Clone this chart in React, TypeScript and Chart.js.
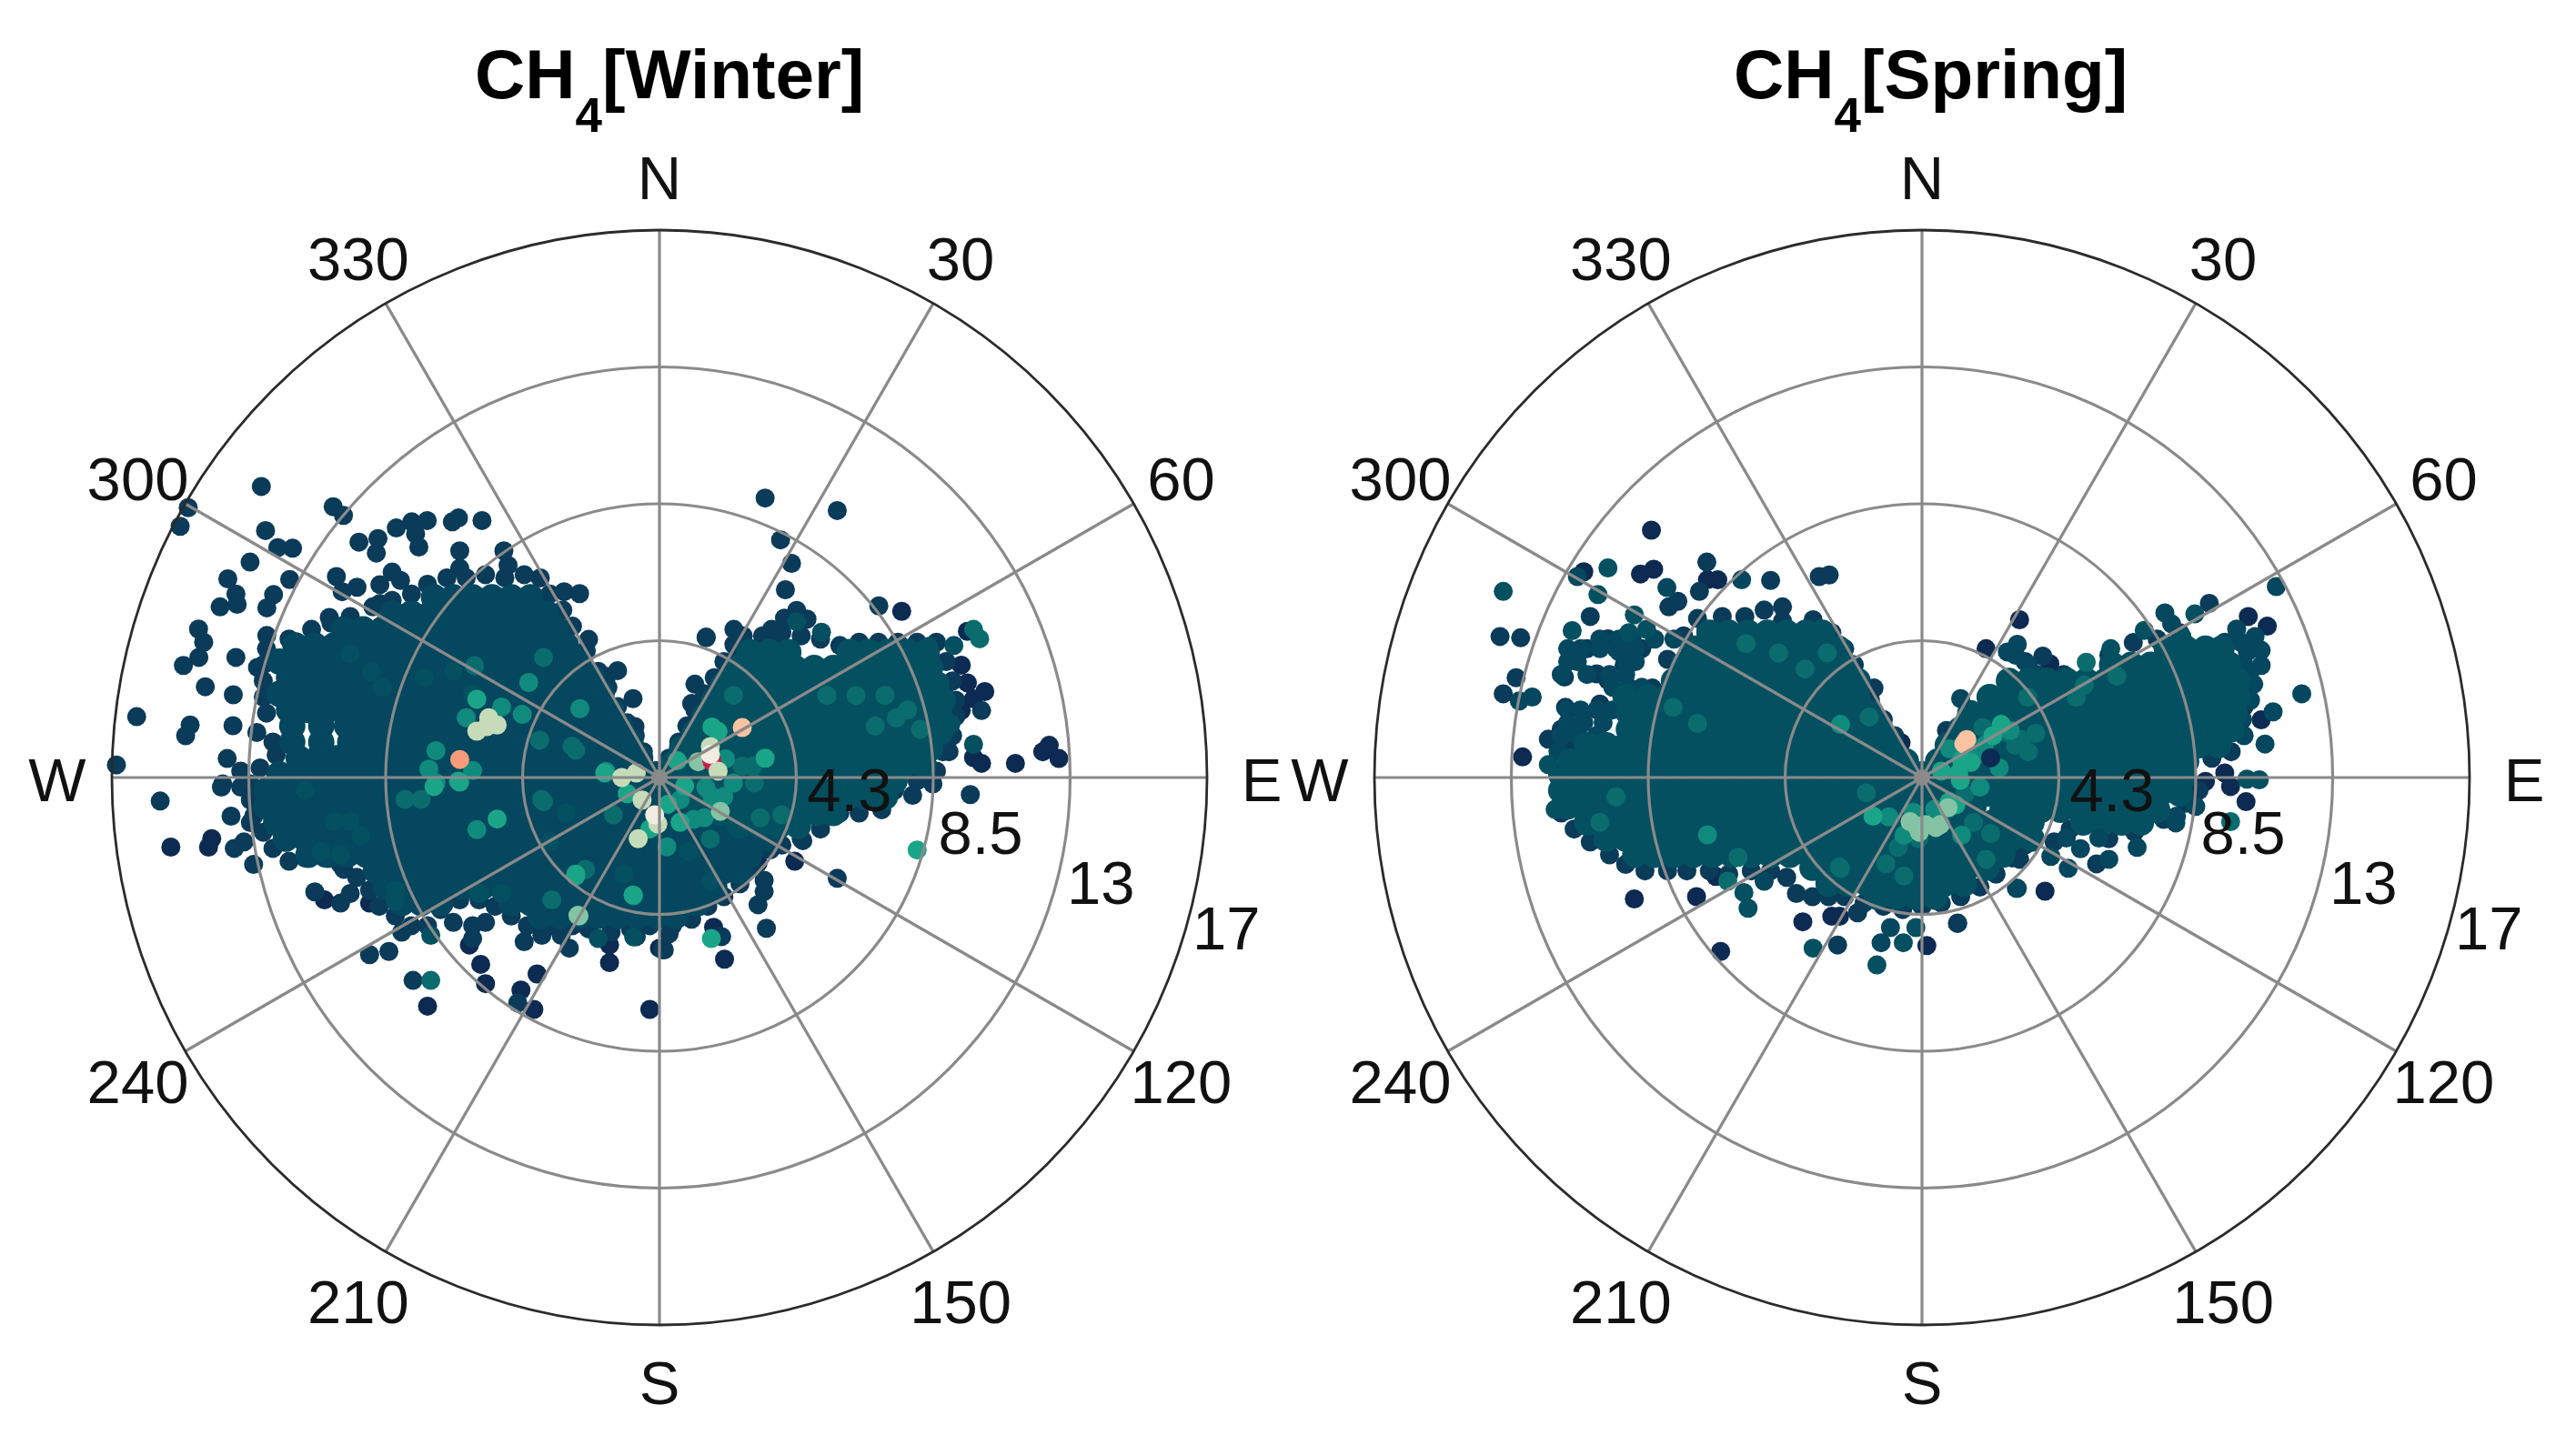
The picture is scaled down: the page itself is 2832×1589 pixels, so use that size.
import { useEffect, useRef } from "react";
import { Chart, registerables } from "chart.js";

Chart.register(...registerables);

// Wind rose scatter. Every row is [north, east, east, ...] in wind speed units.
// The middle of each lobe is overplotted, so the "Body" rows are an estimate of
// coverage there; single dots are only readable around the rims and for bright values.

const dirBearings = [0, 30, 60, 90, 120, 150, 180, 210, 240, 270, 300, 330];
const dirLabels = ["N", "30", "60", "E", "120", "150", "S", "210", "240", "W", "300", "330"];
const speedTicks = [4.25, 8.5, 12.75, 17];
const speedLabels = ["4.3", "8.5", "13", "17"];

const winterNavy = [
  [5.16, 7.52], [4.54, 9.56], [3.49, 9.37], [2.94, 9.56], [2.67, 10.1], [2.44, 9.75], [2.08, 9.37], [2.43, 9],
  [.62, 9.75], [.44, 10, 11.05], [.8, 11.9], [1, 12.1], [.59, 12.4], [4.07, 6.85],
  [-2.6, 4.2], [-2.66, 3.06], [-2.9, 2.56], [-3.8, -10.4], [-3.9, -9], [-7.1, -7.2], [-5.2, -5.9, -1.55],
  [-5.8, -5.55], [-6.4, -5.4], [-6.1, -3.8], [-6.6, -4.3], [-7.2, -3.9, -.3], [-5.75, -1.55], [-5.3, 0],
  [-4.65, 1.68], [-5.64, 2.02], [-2.16, -15.17, -14], [-1.9, -13.9],
];

const winterEdge = [
  [9.04, -12.36], [8.41, -10.13], [8.38, -14.63], [8.14, -9.81], [8.06, -6.24], [7.98, -7.21, -5.51], [7.94, -7.69, -6.43],
  [7.8, -14.88], [7.75, -8.17], [7.67, -12.23], [7.56, -7.57], [7.42, -8.74], [7.31, -9.33], [7.16, -7.47], [7.14, -11.85],
  [7.12, -11.39], [7.04, -6.2, -4.83], [6.97, -8.79], [6.69, -12.71], [6.59, -4.7], [6.5, -6.2], [6.38, -8.3], [6.24, -10.03],
  [6.17, -13.4], [6.15, -11.48], [6.12, -8.04], [5.99, -8.68], [5.91, -9.39], [5.77, -9.85, -2.96], [5.71, -2.48], [5.7, -13.15],
  [5.68, -11.98], [5.4, -8.68], [5.38, -13.11], [5.3, -13.64], [5.27, -12.19], [4.97, -10.25], [4.61, -14.31], [4.41, -12.19],
  [4.36, 1.45], [4.29, -2.2], [4.2, -14.15], [3.73, -14.3, -13.15], [3.48, -14.78], [3.42, -12.48], [3.32, -1.3], [3.14, -1.64],
  [2.82, -14.1], [2.57, -13.23], [2.45, -.82], [1.89, -16.23], [1.63, -14.57], [1.61, -13.24], [1.58, -.76], [1.3, -14.71],
  [.59, -13.42], [.39, -16.86], [.2, -13], [-.2, -13.56], [-.3, -13, -13.6], [-.73, -15.5], [-1.2, -13.3], [-1.4, -12.7],
  [-2, -12.9], [-2.2, -13.2], [-2.7, -12.6], [-3.55, -10.7], [-3.9, -9.9], [-3.6, -9.6], [-2.85, -9.8],
  [-4.8, -8], [-5.5, -9], [-5.4, -8.4], [-6.3, -7.65], [-4.5, -6.4, -5.4], [-4.6, -5.8], [-5, -5.8], [-7, -4.4],
  [-5.1, -4.2], [-4.9, -3.65, -3.05], [-5.3, -2.8],
  [8.68, 3.28], [8.29, 5.52], [7.38, 3.76], [6.65, 4.1], [5.83, 3.91], [5.33, 6.81], [5.19, 4.26], [4.95, 3.88], [4.92, 4.58],
  [4.34, 1.45], [4.6, 2.31, 3.48], [4.13, 2.31], [4.3, 3.7], [2.9, 1.1], [2.3, 1], [2.08, 10], [.8, 8.99],
  [-.2, 8.49], [-.55, 7.86], [-.53, 9.65], [-1.96, 4.45], [-2.25, 3.44], [-3.19, 3.25], [-3.54, 3.25], [-3.95, 3.06],
  [-4.68, 3.32], [-4.94, 1.93], [-5.35, .1, .15], [-4.85, .3], [-4.94, -.72], [-3.13, 5.52],
  [4, -12.2], [4.3, -11.5], [4.6, -10.8], [4.8, -10.2], [5, -9.6], [5.3, -8.9], [5.5, -8.3], [5.7, -7.7], [6, -7.2], [6.2, -6.6, -4.8, -3.7],
  [6.2, -6], [6.3, -5.4, -4.2], [5.7, -3.4], [5.2, -3], [4.7, -2.7], [3.5, -12.3], [3, -12.3], [2.5, -12.3], [2, -12.2],
  [1.4, -12.5], [1.1, -12], [.7, -11.9], [.3, -12.4], [-.2, -12.7], [-.7, -12.7], [-1.2, -12.6], [-1.7, -12.3], [-2.2, -12],
  [-2.6, -11.5], [-2.5, -11, -10.4], [-2.7, -9.9], [-3.1, -9.4], [-3.5, -9], [-4, -8.7], [-4.3, -8.2], [-4.6, -7.7, -7.2, -3.4, -2.7],
  [-4.1, -6.8], [-3.8, -6.2, -5.6], [-4, -5.1], [-4.3, -4.6], [-4.6, -4.1], [-4.7, -2.2, -.9], [-4.8, -1.5], [-4.6, -.3, .4],
  [-4.4, 1], [-4, 1.5], [-3.7, 2], [-3.3, 2.5], [-2.8, 2.9], [-2.2, 3.3], [-2.1, 3.8], [-1.9, 4.4], [-1.6, 5], [-1.1, 5.6, 6.2],
  [-1, 6.9], [-.4, 7.3], [-.1, 8], [.2, 8.6], [.8, 8.8], [1.3, 9.1], [1.9, 9.2], [2.4, 9.2], [3, 9.1], [3.6, 8.9], [4.2, 8.6, 8, 7.4, 6.8, 6.2],
  [4.1, 5.6], [4.3, 5], [4.4, 4.4, 3.2, 2.6], [4.5, 3.8],
  [3.94, -2.27], [3.3, -1.9], [2.8, -1.6], [2.2, -1.3], [1.7, -1], [1.3, -.75], [.8, -.5],
  [.6, .3], [1.1, .6], [1.6, .85], [2.1, 1.1], [2.6, 1.4], [3.1, 1.7], [3.6, 2], [4, 2.4],
];

const winterBody = [
  [5.6, -7, -6.4, -5.8, -5.2, -4.6, -4],
  [5.1, -8.3, -7.7, -7.1, -6.5, -5.9, -5.3, -4.7, -4.1, -3.5],
  [4.6, -9.8, -9.2, -8.6, -8, -7.4, -6.8, -6.2, -5.6, -5, -4.4, -3.8, -3.2],
  [4.1, -11.3, -10.7, -10.1, -9.5, -8.9, -8.3, -7.7, -7.1, -6.5, -5.9, -5.3, -4.7, -4.1, -3.5, -2.9],
  [3.6, -11.8, -11.2, -10.6, -10, -9.4, -8.8, -8.2, -7.6, -7, -6.4, -5.8, -5.2, -4.6, -4, -3.4, -2.8, -2.5],
  [3.1, -11.5, -10.9, -10.3, -9.7, -9.1, -8.5, -7.9, -7.3, -6.7, -6.1, -5.5, -4.9, -4.3, -3.7, -3.1, -2.5, -2.1],
  [2.6, -11.8, -11.2, -10.6, -10, -9.4, -8.8, -8.2, -7.6, -7, -6.4, -5.8, -5.2, -4.6, -4, -3.4, -2.8, -2.2, -1.8],
  [2.1, -11.5, -10.9, -10.3, -9.7, -9.1, -8.5, -7.9, -7.3, -6.7, -6.1, -5.5, -4.9, -4.3, -3.7, -3.1, -2.5, -1.9, -1.5],
  [1.6, -11.4, -10.5, -9.7, -9.1, -8.5, -7.9, -7.3, -6.7, -6.1, -5.5, -4.9, -4.3, -3.7, -3.1, -2.5, -1.9, -1.2],
  [1.1, -11.4, -10.5, -9.6, -9, -8.5, -7.9, -7.3, -6.7, -6.1, -5.5, -4.9, -4.3, -3.7, -3.1, -2.5, -1.9, -1.3, -.9],
  [.6, -11.2, -10.6, -10, -9.4, -8.8, -8.2, -7.6, -7, -6.4, -5.8, -5.2, -4.6, -4, -3.4, -2.8, -2.2, -1.6, -1, -.6],
  [.1, -11.8, -11.2, -10.6, -10, -9.4, -8.8, -8.2, -7.6, -7, -6.4, -5.8, -5.2, -4.6, -4, -3.4, -2.8, -2.2, -1.6, -1, -.4, -.1],
  [-.4, -12.2, -11.6, -11, -10.4, -9.8, -9.2, -8.6, -8, -7.4, -6.8, -6.2, -5.6, -5, -4.4, -3.8, -3.2, -2.6, -2, -1.4, -.8, -.2, .4],
  [-.9, -12.2, -11.6, -11, -10.4, -9.8, -9.2, -8.6, -8, -7.4, -6.8, -6.2, -5.6, -5, -4.4, -3.8, -3.2, -2.6, -2, -1.4, -.8, -.2, .4, 1],
  [-1.4, -11.9, -11.3, -10.7, -10.1, -9.5, -8.9, -8.3, -7.7, -7.1, -6.5, -5.9, -5.3, -4.7, -4.1, -3.5, -2.9, -2.3, -1.7, -1.1, -.5, .1, .7, 1.3, 1.9],
  [-1.9, -11.6, -11, -10.4, -9.8, -9.2, -8.6, -8, -7.4, -6.8, -6.2, -5.6, -5, -4.4, -3.8, -3.2, -2.6, -2, -1.4, -.8, -.2, .4, 1, 1.6, 2.2, 2.8, 3.4],
  [-2.4, -10.9, -10.3, -9.7, -9.1, -8.5, -7.9, -7.3, -6.7, -6.1, -5.5, -4.9, -4.3, -3.7, -3.1, -2.5, -1.9, -1.3, -.7, -.1, .5, 1.1, 1.7, 2.3, 2.8],
  [-2.9, -8.8, -8.2, -7.6, -7, -6.4, -5.8, -5.2, -4.6, -4, -3.4, -2.8, -2.2, -1.6, -1, -.4, .2, .8, 1.4, 2, 2.5],
  [-3.4, -8.5, -7.9, -7.3, -6.7, -6.1, -5.5, -4.9, -4.3, -3.7, -3.1, -2.5, -1.9, -1.3, -.7, -.1, .5, 1.1, 1.7],
  [-3.9, -8, -7.4, -6.8, -4.6, -4, -3.4, -2.8, -2.2, -1.6, -1, -.4, .2, .8, 1.2],
  [-4.3, -3.7, -3.1, -2.5, -1.9, -1.3, -.7, -.1, .5],
];

const winterEast = [
  [3.9, 2.8, 3.4, 4, 5.9, 6.5, 7.1, 7.7, 8.3],
  [3.4, 2.4, 3, 3.6, 4.2, 4.8, 5.4, 6, 6.6, 7.2, 7.8, 8.4],
  [2.9, 2, 2.6, 3.2, 3.8, 4.4, 5, 5.6, 6.2, 6.8, 7.4, 8, 8.6],
  [2.4, 1.7, 2.3, 2.9, 3.5, 4.1, 4.7, 5.3, 5.9, 6.5, 7.1, 7.7, 8.3, 8.8],
  [1.9, 1.4, 2, 2.6, 3.2, 3.8, 4.4, 5, 5.6, 6.2, 6.8, 7.4, 8, 8.7],
  [1.4, 1.1, 1.7, 2.3, 2.9, 3.5, 4.1, 4.7, 5.3, 5.9, 6.5, 7.1, 7.7, 8.3, 8.7],
  [.9, .7, 1.3, 1.9, 2.5, 3.1, 3.7, 4.3, 4.9, 5.5, 6.1, 6.7, 7.3, 7.9, 8.4],
  [.4, .4, 1, 1.6, 2.2, 2.8, 3.4, 4, 4.6, 5.2, 5.8, 6.4, 7, 7.6, 8.2],
  [-.1, .2, .8, 1.4, 2, 2.6, 3.2, 3.8, 4.4, 5, 5.6, 6.2, 6.8, 7.3],
  [-.6, 1, 1.6, 2.2, 2.8, 3.4, 4, 4.6, 5.2, 5.8, 6.4, 7],
  [-1.1, 1.9, 2.5, 3.1, 3.7, 4.3, 4.9, 5.4],
  [-1.5, 2.5, 3.1, 3.7, 4.3],
];

const winterSoft = [
  [4.84, 4.26], [4.51, 5.03], [4.1, 9.14], [1.67, 9.05], [1.03, 9.75], [4.07, 8.36], [-4.95, -.8], [-5, -1.9],
  [-4.9, -7.1], [-3.84, -8.2], [3.84, -9.6], [3.28, -8.95], [-1.37, -10.1, -9.6], [-1.8, -9.27], [-2.3, -10.5],
  [-2.4, -9.9], [-3.5, -8.2], [-3.6, -4.9, -5.6], [-.4, -11], [2.8, -8.6], [3.1, -7.3], [3.3, -6.4], [2.6, -5.8],
  [-1.1, -2.9], [-2, -3.4], [-3, -1.1], [-2.3, .9], [-3.2, 1.6],
];

const winterTeal = [
  [4.6, 9.75], [4.31, 9.94], [-6.3, -7.1], [3.73, -3.6], [1.16, -3.72], [.97, -2.71], [3.47, -5.74], [-.68, -7.9, -3.66, -7.4],
  [-.75, -3.6], [-3.8, -3.34], [.85, -2.6], [-1.16, -1.43, 3.8], [-2.85, -2.3], [-2.87, -2.3], [.35, 2.57, 2.9], [-.17, 2.95],
  [-1.91, 1.58], [-1.25, 3.13], [2.55, 6.1, 7, 5.2, 2.3], [1.6, 6.7], [1.85, 7.35], [2.1, 7.7], [1.5, 8.1],
];

const winterJade = [
  [2.14, -2.47], [1.86, -6], [2.19, -4.9], [1.96, -4.26], [2.95, -4.06], [.26, -7.16], [.83, -6.94], [.22, -5.8], [-.16, -6.94],
  [-1.62, -5.67], [.19, -1.66], [-2.15, .23], [.58, 2.05], [-.31, 1.44], [-.59, 1.63, 2], [-.69, .64], [-1.3, 1.06], [-1.25, 1.39],
  [-.17, 2.29], [-3.67, -.8],
];

const winterGreen = [
  [2.43, -5.67], [.14, -1.7], [-.5, -1], [-1.6, -.3], [-3, -2.6], [-3.65, -.82], [-.11, -6.24], [-.14, -6.2], [-.28, -7],
  [-1.29, -5.04], [1.43, 1.82], [1.57, 1.63], [.52, .55], [.6, 3.28], [-.26, .78], [-.83, .26], [-1.39, .64], [-2.25, 8],
  [-5, 1.61], [-3.06, -2.6],
];

const winterMint = [[.49, 1.2], [-1.05, 1.89], [-4.28, -2.53], [-4.3, -2.5]];
const winterCrimson = [[.5, 1.63]];
const winterPale = [
  [1.58, -5.36], [1.44, -5.67], [1.63, -5.04], [1.86, -5.3], [0, -1.17], [.14, -.72], [-.7, -.54], [-1.44, -.05], [-1.9, -.66],
  [.96, 1.58], [.2, 1.82],
];
const winterIvory = [[-1.16, -.15], [.72, 1.58]];
const winterPeach = [[.56, -6.2]];
const winterBlush = [[1.55, 2.57]];

const springNavy = [
  [7.68, -8.4], [6.39, -10.5], [6.32, -8.74], [6.47, -8.33], [6.14, -6.66, -6.34], [.64, -12.4], [-3.77, -8.93], [-3.7, -7],
  [-5.4, -6.25], [-3.07, -6.4], [-4.48, -3.7], [-4.31, -2.8, -2.56], [-5.22, .15], [-4.53, 1.1], [4.9, 3.03], [4, 1.99],
  [3.53, 3.97], [5, 10.13], [4.7, 10.72], [1.79, 10.53], [-.28, 9.58], [.14, 9.4], [-.12, 8.8], [-.75, 10.06], [-3.53, 3.82],
  [.99, -.79], [1.08, -.65],
];

const springEdge = [
  [4.38, -13.1], [4.34, -12.46], [3.1, -12.6], [2.6, -13], [5, -10.3], [5.3, -7.86], [5.47, -7.58], [6.69, -6.68], [5.78, -6.91],
  [6.12, -4.7], [6.24, -3.19], [6.29, -2.88], [4.94, -6.97], [5.3, -4.33], [4.86, -4.33], [4.9, -3.38], [2.78, -1.49], [1.19, -11.6],
  [-4.2, -2], [-5.2, -2.62], [4.19, 6.56], [5.41, 8.92], [3.77, 3.75], [-2.68, 5.42], [-2.54, 3.03], [-4.52, 1.11], [1.46, .76],
  [1.27, -.93],
  [3.77, -10.9], [4, -10.4], [4.31, -9.75], [3.12, -11.1], [3.22, -10.1], [3.02, -9.75], [3.87, -9.1], [3.47, -9.25], [4, -8.7],
  [3.67, -7.9], [2.78, -8.37], [2.18, -11.07], [2.28, -10], [1.5, -11.2], [.9, -10.9],
  [4.4, -7.4], [4.6, -6.7], [5, -6.2], [5, -5.5], [5.2, -4.9], [4.5, -2.8], [4, -2.4], [3.5, -2.1], [3, -1.9], [2.4, -1.6], [1.8, -1.2], [1.3, -.85],
  [-1.1, -11.2], [-1.6, -10.8], [-2, -10.3], [-2.4, -9.7], [-2.7, -9.2], [-2.9, -8.6, -7.9, -7.3, -6.6, -5.3, -4.7], [-3, -6],
  [-3.1, -4.2], [-3.6, -3.9], [-3.7, -3.4, -2.9, -2.4, 1.2], [-3.9, -1.8, .6], [-4, -1.2, 0], [-4.1, -.6], [-3.4, 1.8], [-3, 2.3],
  [-2.5, 2.8], [-2.1, 3.2],
  [3.6, 9.6], [3, 10], [2.2, 10], [1.4, 9.9], [.8, 9.6], [.6, 9], [-.4, 8.6], [-.8, 8.2], [-1.3, 7.5], [-1.7, 6.6], [-1.9, 5.8],
  [-1.6, 4.6], [-2, 4.1], [4.3, 7.3], [4.5, 8], [3.8, 5.8], [3.2, 4.4], [3.6, 3.2],
];

const springRim = [
  [4.3, -10, -9.4, -9, -8.3, -7.7], [4, -11, -10.6, -10, -9.5, -8.9], [3.6, -11, -10.7, -9.2, -8.9], [3.2, -11.2, -10.4, -9.7, -9.2],
  [2.8, -9.6, -9.1, -8.7], [2.1, -11, -10.6, -10.1, -9.6], [1.7, -11, -10.5, -9.9], [1.3, -11.2, -10.7, -10.1], [.8, -11.3],
  [4.2, 9.4, 9.9], [3.9, 10.1], [3.5, 10], [3.3, 10.2], [2.9, 10.3], [2.4, 10.2], [1.8, 9.95], [1.3, 10],
  [3.5, 3.3], [3.2, 3.6], [3.8, 2.9], [-.9, 8.5], [-1.2, 7.9],
];

const springBody = [
  [4.5, -6.6, -6, -5.4, -4.8, -4.2, -3.6, -3.1],
  [4, -7.1, -6.5, -5.9, -5.3, -4.7, -4.1, -3.5, -2.9, -2.6],
  [3.5, -7.4, -6.8, -6.2, -5.6, -5, -4.4, -3.8, -3.2, -2.7, -2.4],
  [3, -7.7, -7.1, -6.5, -5.9, -5.3, -4.7, -4.1, -3.5, -2.9, -2.3, -2],
  [2.5, -9.2, -8.5, -7.9, -7.3, -6.7, -6.1, -5.5, -4.9, -4.3, -3.7, -3.1, -2.5, -2],
  [2, -9.1, -8.9, -8.3, -7.7, -7.1, -6.5, -5.9, -5.3, -4.7, -4.1, -3.5, -2.9, -2.3, -1.6],
  [1.5, -9.1, -8.5, -7.9, -7.3, -6.7, -6.1, -5.5, -4.9, -4.3, -3.7, -3.1, -2.5, -1.9, -1.3],
  [1, -10.4, -9.8, -9.2, -8.6, -8, -7.4, -6.8, -6.2, -5.6, -5, -4.4, -3.8, -3.2, -2.6, -2, -1.4, -1],
  [.5, -10.9, -10.3, -9.7, -9.1, -8.5, -7.9, -7.3, -6.7, -6.1, -5.5, -4.9, -4.3, -3.7, -3.1, -2.5, -1.9, -1.3, -.7, -.5],
  [.1, -11.2, -10.6, -10, -9.4, -8.8, -8.2, -7.6, -7, -6.4, -5.8, -5.2, -4.6, -4, -3.4, -2.8, -2.2, -1.6, -1, -.4, 0],
  [-.4, -11.2, -10.6, -10, -9.4, -8.8, -8.2, -7.6, -7, -6.4, -5.8, -5.2, -4.6, -4, -3.4, -2.8, -2.2, -1.6, -1, -.4, .2, .8, 1.4],
  [-.9, -11, -10.4, -9.8, -9.2, -8.6, -8, -7.4, -6.8, -6.2, -5.6, -5, -4.4, -3.8, -3.2, -2.6, -2, -1.4, -.8, -.2, .4, 1, 1.6],
  [-1.4, -10.4, -9.8, -9.2, -8.6, -8, -7.4, -6.8, -6.2, -5.6, -5, -4.4, -3.8, -3.2, -2.6, -2, -1.4, -.8, -.2, .4, 1, 1.6, 2.2],
  [-1.9, -9.8, -9.2, -8.6, -8, -7.4, -6.8, -6.2, -5.6, -5, -4.4, -3.8, -3.2, -2.6, -2, -1.4, -.8, -.2, .4, 1, 1.6, 2.2, 2.8, 3.4],
  [-2.4, -8.9, -8.3, -7.7, -7.1, -6.5, -5.9, -5.3, -4.7, -4.1, -3.5, -2.9, -2.3, -1.7, -1.1, -.5, .1, .7, 1.3, 1.9, 2.5],
  [-2.8, -3.4, -2.8, -2.2, -1.6, -1, -.4, .2, .8, 1.4, 2],
  [-3.3, -2.9, -2.3, -1.7, -1.1, -.5, .1, .7, 1.3],
  [-3.7, -1.4, -.8, -.2, .4],
  [4, 7.6, 8.2, 8.8, 9.3],
  [3.5, 5.9, 6.5, 7.1, 7.7, 8.3, 8.9, 9.5],
  [3, 2.7, 3.3, 3.9, 4.5, 5.1, 5.7, 6.3, 6.9, 7.5, 8.1, 8.7, 9.3, 9.8],
  [2.5, 2.1, 2.7, 3.3, 3.9, 4.5, 5.1, 5.7, 6.3, 6.9, 7.5, 8.1, 8.7, 9.3, 9.8],
  [2, 1.5, 2.1, 2.7, 3.3, 3.9, 4.5, 5.1, 5.7, 6.3, 6.9, 7.5, 8.1, 8.7, 9.3, 9.7],
  [1.5, 1.2, 1.8, 2.4, 3, 3.6, 4.2, 4.8, 5.4, 6, 6.6, 7.2, 7.8, 8.4, 9, 9.6],
  [1, .8, 1.4, 2, 2.6, 3.2, 3.8, 4.4, 5, 5.6, 6.2, 6.8, 7.4, 8, 8.6, 9.2],
  [.5, .5, 1.1, 1.7, 2.3, 2.9, 3.5, 4.1, 4.7, 5.3, 5.9, 6.5, 7.1, 7.7, 8.2],
  [0, .3, .9, 1.5, 2.1, 2.7, 3.3, 3.9, 4.5, 5.1, 5.7, 6.3, 6.9, 7.5, 8.1],
  [-.5, 2, 2.6, 3.2, 3.8, 4.4, 5, 5.6, 6.2, 6.8, 7.4, 8],
  [-1, 2.5, 3.1, 3.7, 4.3, 4.9, 5.5, 6.1, 6.7, 7.3],
  [-1.4, 2.8, 3.4, 5, 5.6, 6.2, 6.8],
];

const springSpots = [
  [-1.88, 4.48, 5.49], [-2.21, 4.92], [-2.17, 6.68], [-2.82, 4.54], [-2.54, 5.8], [-2.45, 4], [-1.41, 7.88], [-3.44, 2.96, 2.93],
  [2.6, 11.79], [2.04, 10.9], [1.04, 10.65], [5.93, 11], [5.11, 7.54], [4.77, 7.75], [4.61, 9.77], [4.38, 10.34], [3.95, 10.53],
  [3.48, 10.53], [4.14, 2.96], [3.9, 2.65], [2.45, 1.2],
  [-5.13, -1.27], [-4.66, -.98], [3.9, -9.4], [6.24, -10.7], [2.38, -12.5], [2.5, -12.1], [6.14, -5.6], [5.9, -7.92], [-3.22, -4.9],
];

const springEast = [
  [5.78, -13], [6.51, -9.75], [5.68, -10.06], [4.56, -10.86], [5.05, -8.93], [4.6, -8.55], [4.5, -9.1], [.4, -11.6], [-.99, -11.39],
  [-3.57, -5.53], [-4.06, -5.4], [-5.3, -3.38], [-5.13, -.58], [-4.66, -.19], [-5.82, -1.4], [4, 5.86], [4.57, 6.9], [5.08, 8.47],
  [-.05, 10.09], [-.07, 10.47], [4, 8.7], [4.38, 8.07],
];

const springTeal = [
  [-3.22, -6.03], [3.87, -2.94, -4.45], [3.37, -3.63], [4.16, -5.46], [2.18, -7.73], [1.68, -6.97], [-.6, -9.5], [-2.48, -5.71],
  [-2.78, -2.56], [-1.39, -10], [1.88, -1.64], [-.47, -1.73], [-2.17, -.74], [-3.06, -.56], [-2.82, -2.53], [-1.74, 2.13],
  [-2.54, 1.99], [-2.68, -1.12], [-.52, 1.33], [.8, 3.3], [1.18, 3.1], [1.55, 1.89], [3.15, 6.05], [2.5, 4.79, 3.28], [2.87, 5.04],
  [1.37, 3.53], [-1.37, 9.58], [3.58, 5.1], [1.4, 2.6], [1, 2.9], [-1.4, 1.6], [-1.9, -.1],
];

const springJade = [
  [1.46, 2.74], [.7, 1.7], [.89, .86], [.99, 1.94], [-1.22, -1.03], [-1.08, -.27], [-.99, .39], [-1.79, -.56, 1.23], [-1.78, -6.66],
  [1.65, -2.53], [.3, 2.4], [-.3, 1.8],
];

const springGreen = [
  [1.65, 2.46], [.47, 1.52], [.52, 1.23], [.14, 1.14], [-.09, 1.19], [-.85, 1.05], [-.75, .85], [-1.2, -1.52],
  [1.3, 2.2], [.2, .6],
];

const springMint = [[-.94, .81], [-1.46, .57, .1], [-1.5, -.18], [-1.37, -.37], [-1.55, .43], [-1.7, -.08]];
const springBlush = [[1.18, 1.39], [1.05, 1.3]];
const springTop = [[.61, 2.13]];

const levelColors = ["#0c2a52", "#0a3b59", "#04475e", "#045060", "#0b6c6e", "#118a7e", "#1ba588", "#84c4a4", "#c6dcb8", "#f2ede2", "#f79c79", "#fbc3a2", "#c81e4e"];

const winterLayers = [
  { rows: winterNavy, level: 0 }, { rows: winterEdge, level: 1 }, { rows: winterBody, level: 2, body: true }, { rows: winterEast, level: 3, body: true },
  { rows: winterSoft, level: 3 }, { rows: winterTeal, level: 4 }, { rows: winterJade, level: 5 }, { rows: winterGreen, level: 6 }, { rows: winterMint, level: 7 },
  { rows: winterCrimson, level: 12 }, { rows: winterPale, level: 8 }, { rows: winterIvory, level: 9 }, { rows: winterPeach, level: 10 }, { rows: winterBlush, level: 11 },
];

const springLayers = [
  { rows: springNavy, level: 0 }, { rows: springEdge, level: 1 }, { rows: springRim, level: 2 }, { rows: springBody, level: 3, body: true },
  { rows: springSpots, level: 2 }, { rows: springEast, level: 3 }, { rows: springTeal, level: 4 }, { rows: springJade, level: 5 },
  { rows: springGreen, level: 6 }, { rows: springMint, level: 7 }, { rows: springBlush, level: 11 }, { rows: springTop, level: 0 },
];

const toPoints = (rows: number[][]) =>
  rows.flatMap(([north, ...easts]) => easts.map((east) => ({ x: east, y: north })));

const FONT = '"Liberation Sans", Arial, sans-serif';
const PAGE_HEIGHT = 1589;
const PANEL_WIDTH = 1416;
const DIR_LABEL_RADIUS = 18.7;
const SPEED_LABEL_OFFSET = [[5.9, -.4], [9.97, -1.75], [13.7, -3.3], [17.6, -4.7]];

const polarGrid = {
  id: "polarGrid",
  afterDatasetsDraw(chart: Chart) {
    const { ctx } = chart;
    const xs = chart.scales.x;
    const ys = chart.scales.y;
    const cx = xs.getPixelForValue(0);
    const cy = ys.getPixelForValue(0);
    const unit = xs.getPixelForValue(1) - cx;
    const last = speedTicks[speedTicks.length - 1];

    ctx.save();
    ctx.strokeStyle = "#8a8a8a";
    ctx.lineWidth = 3.2;
    dirBearings.forEach((b) => {
      const a = (b * Math.PI) / 180;
      ctx.beginPath();
      ctx.moveTo(cx, cy);
      ctx.lineTo(xs.getPixelForValue(last * Math.sin(a)), ys.getPixelForValue(last * Math.cos(a)));
      ctx.stroke();
    });
    speedTicks.forEach((t) => {
      ctx.beginPath();
      ctx.arc(cx, cy, t * unit, 0, Math.PI * 2);
      if (t === last) {
        ctx.strokeStyle = "#2b2b2b";
        ctx.lineWidth = 2.8;
      }
      ctx.stroke();
    });
    ctx.fillStyle = "#8a8a8a";
    ctx.beginPath();
    ctx.arc(cx, cy, 9, 0, Math.PI * 2);
    ctx.fill();

    ctx.fillStyle = "#111";
    ctx.font = `67px ${FONT}`;
    ctx.textAlign = "center";
    ctx.textBaseline = "middle";
    dirBearings.forEach((b, i) => {
      const a = (b * Math.PI) / 180;
      ctx.fillText(
        dirLabels[i],
        xs.getPixelForValue(DIR_LABEL_RADIUS * Math.sin(a)),
        ys.getPixelForValue(DIR_LABEL_RADIUS * Math.cos(a)) + 8,
      );
    });
    speedLabels.forEach((label, i) => {
      const [east, north] = SPEED_LABEL_OFFSET[i];
      ctx.fillText(label, xs.getPixelForValue(east), ys.getPixelForValue(north) + 4);
    });
    ctx.restore();
  },
};

interface PanelProps {
  layers: { rows: number[][]; level: number; body?: boolean }[];
  left: number;
  centerX: number;
  season: string;
  titleLeft: number;
}

function PolarPanel({ layers, left, centerX, season, titleLeft }: PanelProps) {
  const canvasRef = useRef<HTMLCanvasElement>(null);

  useEffect(() => {
    if (!canvasRef.current) return;
    const radius = 602;
    const chart = new Chart(canvasRef.current, {
      type: "scatter",
      data: {
        datasets: layers.map((layer, i) => ({
          label: `${season} ${layer.level}`,
          data: toPoints(layer.rows),
          order: layers.length - i,
          backgroundColor: levelColors[layer.level],
          pointRadius: layer.body ? 14.5 : 10.5,
          pointBorderWidth: 0,
          clip: false as const,
        })),
      },
      options: {
        responsive: false,
        animation: false,
        devicePixelRatio: 1,
        layout: {
          padding: {
            left: centerX - left - radius,
            right: PANEL_WIDTH - (centerX - left) - radius,
            top: 855 - radius,
            bottom: PAGE_HEIGHT - 855 - radius,
          },
        },
        plugins: { legend: { display: false }, tooltip: { enabled: false } },
        scales: {
          x: { type: "linear", min: -17, max: 17, display: false },
          y: { type: "linear", min: -17, max: 17, display: false },
        },
      },
      plugins: [polarGrid],
    });
    return () => chart.destroy();
  }, [layers, left, centerX, season]);

  return (
    <>
      <canvas
        ref={canvasRef}
        width={PANEL_WIDTH}
        height={PAGE_HEIGHT}
        style={{ position: "absolute", left, top: 0, width: PANEL_WIDTH, height: PAGE_HEIGHT }}
      />
      <div
        style={{
          position: "absolute",
          left: titleLeft,
          top: 43,
          font: `bold 76.5px/77px ${FONT}`,
          color: "#000",
          whiteSpace: "nowrap",
        }}
      >
        CH<span style={{ fontSize: 53, position: "relative", top: 37 }}>4</span>[{season}]
      </div>
    </>
  );
}

export default function App() {
  return (
    <div style={{ position: "absolute", left: 0, top: 0, width: 2832, height: PAGE_HEIGHT, background: "#fff", overflow: "hidden" }}>
      <PolarPanel layers={winterLayers} left={0} centerX={725} season="Winter" titleLeft={522} />
      <PolarPanel layers={springLayers} left={PANEL_WIDTH} centerX={2113} season="Spring" titleLeft={1906} />
    </div>
  );
}
